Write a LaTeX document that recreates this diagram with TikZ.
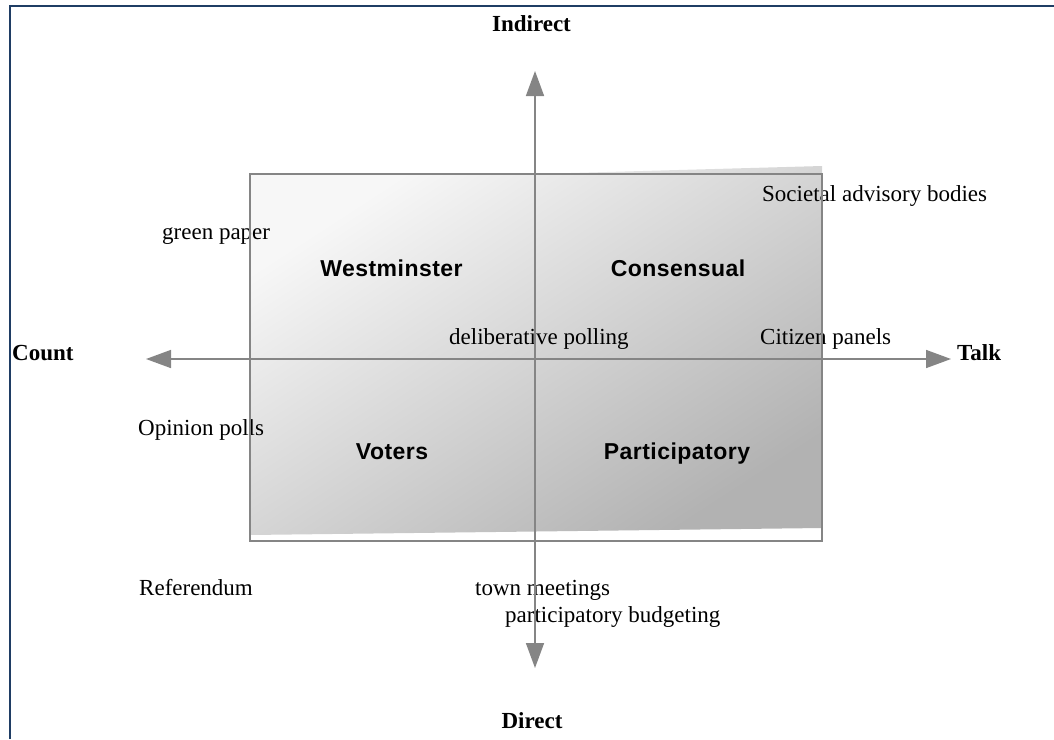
\documentclass[tikz,border=0pt]{standalone}
\usepackage{fontspec}
\setmainfont{Liberation Serif}
\newfontfamily\quadfont[LetterSpace=2]{Liberation Sans}
\usetikzlibrary{arrows.meta}
\definecolor{axisgray}{HTML}{858585}
\definecolor{frameblue}{HTML}{1F3D64}

\begin{document}
\begin{tikzpicture}[
    x=1pt, y=-1pt,
    axis/.style={draw=axisgray, line width=1.6pt,
        {Triangle[length=25pt,width=18pt]}-{Triangle[length=25pt,width=18pt]}},
    example/.style={anchor=base west, inner sep=0pt, font=\fontsize{23}{27}\selectfont},
    pole/.style={anchor=base, inner sep=0pt, font=\fontsize{23}{27}\selectfont\bfseries},
    quadrant/.style={anchor=base, inner sep=0pt, font=\quadfont\fontsize{23}{27}\selectfont\bfseries}
]
\useasboundingbox (0,0) rectangle (1054,739);

% Frame
\draw[frameblue, line width=2.8pt] (10,739) -- (10,6) -- (1054,6);

% Shaded field
\shade[top color=white!97!black, bottom color=white!70!black, shading angle=33]
    (250,174) -- (535,174) -- (822,166) -- (822,528) -- (250,535) -- cycle;

% Examples
\foreach \x/\y/\name/\txt in {162/239/green/green paper,
    762/201/societal/Societal advisory bodies,
    449/344/deliberative/deliberative polling,
    760/344/citizen/Citizen panels,
    138/435/opinion/Opinion polls,
    139/595/referendum/Referendum,
    475/595/town/town meetings,
    505/622/budgeting/participatory budgeting} {
    \node[example] (\name) at (\x,\y) {\txt};
}

% Field border
\node[draw=axisgray, line width=1.6pt, inner sep=0pt,
    minimum width=572pt, minimum height=367pt] (field) at (536,357.5) {};

% Axes
\coordinate (up) at (535,71);
\coordinate (down) at (535,668);
\coordinate (left) at (146,359);
\coordinate (right) at (951,359);
\draw[axis] (down) -- (up);
\draw[axis] (left) -- (right);

% Poles
\node[pole] (indirect) at (531.5,31.5) {Indirect};
\node[pole] (direct) at (532,728) {Direct};
\node[pole, anchor=base west] (count) at (12,360) {Count};
\node[pole, anchor=base west] (talk) at (957,360.5) {Talk};

% Quadrants
\node[quadrant] (westminster) at (391.5,276) {Westminster};
\node[quadrant] (consensual) at (678,276) {Consensual};
\node[quadrant] (voters) at (392,459) {Voters};
\node[quadrant] (participatory) at (677,459) {Participatory};
\end{tikzpicture}
\end{document}
